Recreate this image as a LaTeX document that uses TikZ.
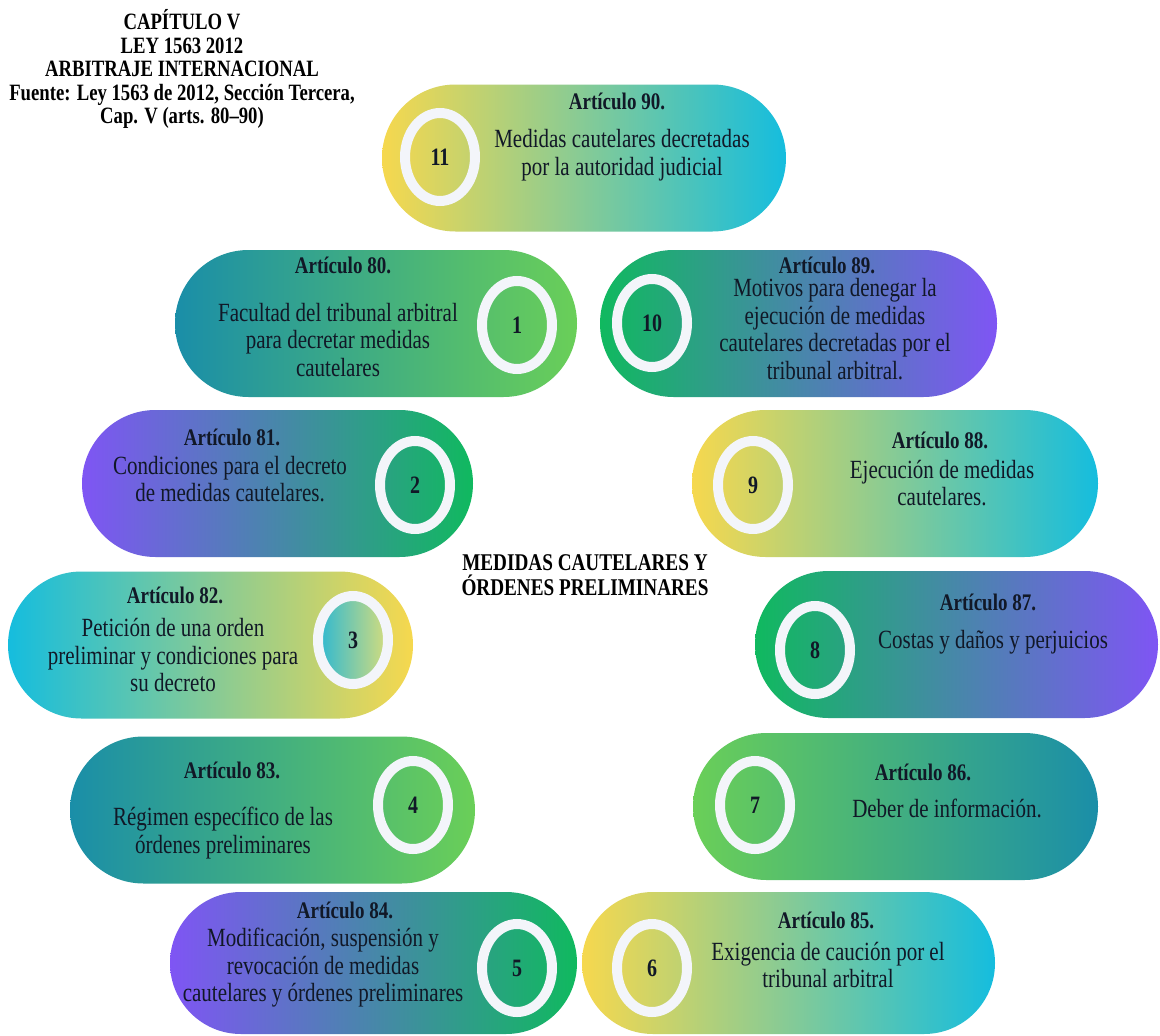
\documentclass[tikz,border=0pt]{standalone}
\usepackage{fontspec}
\usepackage{graphicx}
\setmainfont{Liberation Serif}
\usetikzlibrary{shapes.misc,shapes.geometric}
\definecolor{cpurple}{HTML}{7F55F4}
\definecolor{cgreen}{HTML}{10B95F}
\definecolor{cteal}{HTML}{1A8EA8}
\definecolor{clgreen}{HTML}{6ACF58}
\definecolor{cyellow}{HTML}{F6D84E}
\definecolor{ccyan}{HTML}{15BDDE}
\definecolor{ringcol}{HTML}{F3F5FA}
\definecolor{txt}{HTML}{111827}
\definecolor{inA}{HTML}{2DB8D2}
\definecolor{inB}{HTML}{D6DD7C}
\tikzset{
 pill/.style={rounded rectangle, inner sep=0pt, minimum height=147pt, draw=none},
 ringnode/.style={ellipse, draw=ringcol, line width=10pt, minimum width=70pt, minimum height=88pt, inner sep=0pt, font=\fontsize{20}{20}\selectfont\bfseries, text=txt},
 arttitle/.style={font=\fontsize{19}{22}\selectfont\bfseries, text=txt, yscale=1.25, inner sep=0pt, align=center},
 artbody/.style={font=\fontsize{21}{22}\selectfont, text=txt, yscale=1.25, inner sep=0pt, align=center},
 heading/.style={font=\fontsize{18.7}{18.8}\selectfont\bfseries, text=black, yscale=1.25, inner sep=0pt, align=center},
 central/.style={font=\fontsize{19.2}{20}\selectfont\bfseries, text=black, yscale=1.25, inner sep=0pt, align=center},
}
\newcommand{\num}[1]{\scalebox{1}[1.25]{#1}}
\begin{document}
\begin{tikzpicture}[x=1pt,y=-1pt]
\fill[white] (0,0) rectangle (1160,1036);
\useasboundingbox (0,0) rectangle (1160,1036);

% pills
\node[pill, minimum width=404pt, left color=cyellow, right color=ccyan] (p11) at (584,158) {};
\node[pill, minimum width=402pt, left color=cteal, right color=clgreen] (p1) at (376,323.5) {};
\node[pill, minimum width=397pt, left color=cgreen, right color=cpurple] (p10) at (798.5,323.5) {};
\node[pill, minimum width=391pt, left color=cpurple, right color=cgreen] (p2) at (277.5,483.5) {};
\node[pill, minimum width=406pt, left color=cyellow, right color=ccyan] (p9) at (895,483.5) {};
\node[pill, minimum width=405pt, left color=ccyan, right color=cyellow] (p3) at (210.5,645) {};
\node[pill, minimum width=403pt, left color=cgreen, right color=cpurple] (p8) at (956.5,644.5) {};
\node[pill, minimum width=405pt, left color=cteal, right color=clgreen] (p4) at (272.5,810) {};
\node[pill, minimum width=405pt, left color=clgreen, right color=cteal] (p7) at (895.5,806.5) {};
\node[pill, minimum width=407pt, minimum height=142pt, left color=cpurple, right color=cgreen] (p5) at (373.5,963) {};
\node[pill, minimum width=413pt, minimum height=142pt, left color=cyellow, right color=ccyan] (p6) at (788.5,963) {};

% rings with numbers
\node[ringnode] (r11) at (440,157) {\num{11}};
\node[ringnode] (r1) at (517,325) {\num{1}};
\node[ringnode] (r10) at (652,323) {\num{10}};
\node[ringnode] (r2) at (415,485) {\num{2}};
\node[ringnode] (r9) at (753,485) {\num{9}};
\node[ringnode, left color=inA, right color=inB] (r3) at (353,640) {\num{3}};
\node[ringnode] (r8) at (815,650) {\num{8}};
\node[ringnode] (r4) at (413,805) {\num{4}};
\node[ringnode] (r7) at (755,805) {\num{7}};
\node[ringnode] (r5) at (517,968) {\num{5}};
\node[ringnode] (r6) at (652,968) {\num{6}};

% texts
\node[arttitle] (t11) at (617,101) {Artículo 90.};
\node[artbody] (b11) at (622,155) {Medidas cautelares decretadas\\por la autoridad judicial};
\node[arttitle] (t1) at (343,265) {Artículo 80.};
\node[artbody] (b1) at (338,340) {Facultad del tribunal arbitral\\para decretar medidas\\cautelares};
\node[arttitle] (t10) at (827,265) {Artículo 89.};
\node[artbody] (b10) at (835,329) {Motivos para denegar la\\ejecución de medidas\\cautelares decretadas por el\\tribunal arbitral.};
\node[arttitle] (t2) at (232,437) {Artículo 81.};
\node[artbody] (b2) at (230,479) {Condiciones para el decreto\\de medidas cautelares.};
\node[arttitle] (t9) at (940,440) {Artículo 88.};
\node[artbody] (b9) at (942,483) {Ejecución de medidas\\cautelares.};
\node[arttitle] (t3) at (175,595) {Artículo 82.};
\node[artbody] (b3) at (173,655) {Petición de una orden\\preliminar y condiciones para\\su decreto};
\node[arttitle] (t8) at (988,602) {Artículo 87.};
\node[artbody] (b8) at (993,642) {Costas y daños y perjuicios};
\node[arttitle] (t4) at (232,770) {Artículo 83.};
\node[artbody] (b4) at (223,833) {Régimen específico de las\\órdenes preliminares};
\node[arttitle] (t7) at (923,772) {Artículo 86.};
\node[artbody] (b7) at (947,808) {Deber de información.};
\node[arttitle] (t5) at (345,910) {Artículo 84.};
\node[artbody] (b5) at (323,968) {Modificación, suspensión y\\revocación de medidas\\cautelares y órdenes preliminares};
\node[arttitle] (t6) at (826,920) {Artículo 85.};
\node[artbody] (b6) at (828,965) {Exigencia de caución por el\\tribunal arbitral};

\node[heading] (head) at (182,69) {CAPÍTULO V\\LEY 1563 2012\\ARBITRAJE INTERNACIONAL\\Fuente: Ley 1563 de 2012, Sección Tercera,\\Cap. V (arts. 80--90)};
\node[central] (center) at (585,575) {MEDIDAS CAUTELARES Y\\ÓRDENES PRELIMINARES};
\end{tikzpicture}
\end{document}
